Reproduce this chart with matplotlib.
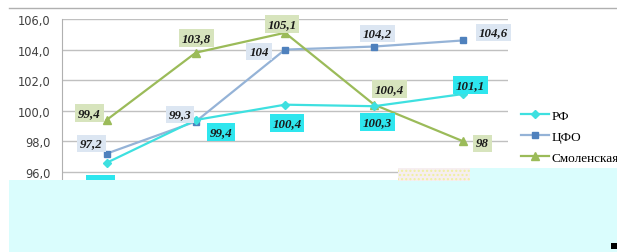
import matplotlib
matplotlib.use('Agg')
import matplotlib.pyplot as plt
from matplotlib.patches import Rectangle
from matplotlib.lines import Line2D

# данные
categories = ['2010', '2011', '2012', '2013', '2014']
rf = [96.6, 99.4, 100.4, 100.3, 101.1]
cfo = [97.2, 99.3, 104.0, 104.2, 104.6]
smol = [99.4, 103.8, 105.1, 100.4, 98.0]
series_names = ['РФ', 'ЦФО', 'Смоленская область']

W, H = 617, 253
fig = plt.figure(figsize=(W / 100, H / 100), dpi=100)
ax = fig.add_axes([62 / W, 1 - 203.6 / H, 446 / W, 183.6 / H])

x = range(len(categories))
l1, = ax.plot(x, rf, color='#3ee0e0', lw=1.6, marker='D', ms=4,
              mfc='#3ee0e0', mec='#3ee0e0', zorder=4)
l2, = ax.plot(x, cfo, color='#95b3d7', lw=1.6, marker='s', ms=5,
              mfc='#4f81bd', mec='#4f81bd', zorder=3)
l3, = ax.plot(x, smol, color='#9bbb59', lw=1.6, marker='^', ms=5.5,
              mfc='#9bbb59', mec='#9bbb59', zorder=3)

ax.set_xlim(-0.5, len(categories) - 0.5)
ax.set_ylim(94, 106)
ax.set_yticks([94, 96, 98, 100, 102, 104, 106])
ax.set_yticklabels(['94,0', '96,0', '98,0', '100,0', '102,0', '104,0', '106,0'],
                   fontsize=8.3, color='#404040', family='DejaVu Sans')
ax.set_xticks(list(x))
ax.set_xticklabels(categories, fontsize=7, color='#404040')
ax.tick_params(length=0, pad=8.5)
ax.grid(axis='y', color='#c0c0c0', lw=1)
ax.set_axisbelow(True)
for s in ['top', 'right', 'bottom']:
    ax.spines[s].set_visible(False)
ax.spines['left'].set_color('#b0b0b0')


def fmt(v):
    s = ('%.1f' % v).replace('.', ',')
    return s[:-2] if s.endswith(',0') else s


# подписи данных: (смещение в пикселях)
rf_off = [(-6, -21), (25, -12), (2, -18), (3, -16), (7, 9)]
cfo_off = [(-15, 10), (-16, 7), (-26, -2), (3, 13), (30, 8)]
smol_off = [(-17, 7), (1, 15), (-3, 9), (15, 16), (19, -2)]
for vals, offs, bg in [(rf, rf_off, '#2ee6ee'), (cfo, cfo_off, '#dce6f2'),
                       (smol, smol_off, '#d7e4bd')]:
    for i, (v, o) in enumerate(zip(vals, offs)):
        ax.annotate(fmt(v), (i, v), xytext=o, textcoords='offset pixels',
                    ha='center', va='center', fontsize=9.3, family='Liberation Serif',
                    style='italic', weight='bold', color='#1a1a1a', zorder=6,
                    bbox=dict(boxstyle='square,pad=0.22', fc=bg, ec='none'))

# легенда: первая строка подписи у маркера, вторая строка ниже отдельно
first_lines = [n.split(' ')[0] for n in series_names]
leg = fig.legend([l1, l2, l3], first_lines, loc='upper left',
                 bbox_to_anchor=(509 / W, 1 - 99 / H), frameon=False,
                 prop={'family': 'Liberation Serif', 'size': 9.5},
                 handlelength=2.1, handletextpad=0.2, labelspacing=0.65)
fig.text(545 / W, 1 - 174 / H, series_names[2].split(' ')[1], ha='left', va='center',
         family='Liberation Serif', fontsize=9.5)

# верхняя линия рамки
fig.add_artist(Line2D([9 / W, 1], [1 - 9 / H, 1 - 9 / H], color='#b0b0b0', lw=1))

# светлая заливка внизу, как на исходной картинке
fill = '#dafdfd'
fig.add_artist(Rectangle((9 / W, 0), 1, (H - 181) / H, transform=fig.transFigure,
                         fc=fill, ec='none', zorder=10))
fig.add_artist(Rectangle((470 / W, (H - 182) / H), 1, 13 / H, transform=fig.transFigure,
                         fc=fill, ec='none', zorder=10))
fig.add_artist(Rectangle((398 / W, (H - 182) / H), 72 / W, 13 / H, transform=fig.transFigure,
                         fc='#f6eef0', ec='#f0f0a0', hatch='....', lw=0, zorder=10))
fig.add_artist(Rectangle((611 / W, 3 / H), 6 / W, 6 / H, transform=fig.transFigure,
                         fc='black', ec='none', zorder=11))

fig.savefig('out.png', dpi=100)
